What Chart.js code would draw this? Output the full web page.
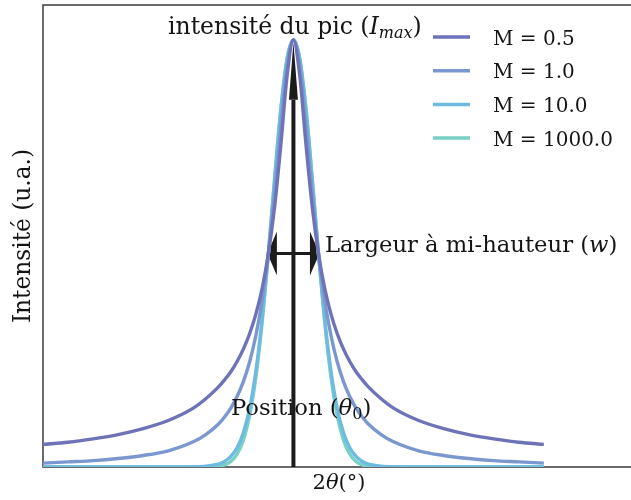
<!DOCTYPE html>
<html>
<head>
<meta charset="utf-8">
<script src="https://cdn.jsdelivr.net/npm/chart.js@4.4.1/dist/chart.umd.min.js"></script>
<style>
  html, body { margin: 0; padding: 0; background: #fff; }
  #wrap { width: 631px; height: 500px; }
</style>
</head>
<body>
<div id="wrap"><canvas id="pvChart"></canvas></div>
<script>
// 2theta positions (relative to peak position, degrees)
const twoTheta = [-10, -9, -8, -7, -6, -5, -4, -3.5, -3, -2.75, -2.5, -2.25, -2, -1.75, -1.5, -1.25, -1, -0.75, -0.5, -0.25,
  0, 0.25, 0.5, 0.75, 1, 1.25, 1.5, 1.75, 2, 2.25, 2.5, 2.75, 3, 3.5, 4, 5, 6, 7, 8, 9, 10];

// intensities (peak = 1)
const m05 = [0.053, 0.058, 0.066, 0.076, 0.090, 0.109, 0.138, 0.160, 0.187, 0.204, 0.223, 0.247, 0.276, 0.312, 0.358, 0.418, 0.500, 0.610, 0.756, 0.918,
  1.000, 0.918, 0.756, 0.610, 0.500, 0.418, 0.358, 0.312, 0.276, 0.247, 0.223, 0.204, 0.187, 0.160, 0.138, 0.109, 0.090, 0.076, 0.066, 0.058, 0.053];
const m1 = [0.009, 0.012, 0.015, 0.020, 0.027, 0.038, 0.059, 0.076, 0.100, 0.117, 0.138, 0.165, 0.200, 0.246, 0.308, 0.390, 0.500, 0.640, 0.800, 0.941,
  1.000, 0.941, 0.800, 0.640, 0.500, 0.390, 0.308, 0.246, 0.200, 0.165, 0.138, 0.117, 0.100, 0.076, 0.059, 0.038, 0.027, 0.020, 0.015, 0.012, 0.009];
const m10 = [0, 0, 0, 0, 0, 0, 0.0005, 0.002, 0.007, 0.013, 0.025, 0.045, 0.080, 0.137, 0.224, 0.346, 0.500, 0.673, 0.837, 0.956,
  1.000, 0.956, 0.837, 0.673, 0.500, 0.346, 0.224, 0.137, 0.080, 0.045, 0.025, 0.013, 0.007, 0.002, 0.0005, 0, 0, 0, 0, 0, 0];
const m1000 = [0, 0, 0, 0, 0, 0, 0, 0.0002, 0.002, 0.005, 0.013, 0.030, 0.063, 0.120, 0.210, 0.339, 0.500, 0.677, 0.841, 0.958,
  1.000, 0.958, 0.841, 0.677, 0.500, 0.339, 0.210, 0.120, 0.063, 0.030, 0.013, 0.005, 0.002, 0.0002, 0, 0, 0, 0, 0, 0, 0];

const seriesLabels = ["M = 0.5", "M = 1.0", "M = 10.0", "M = 1000.0"];
const seriesColors = ["#6e73b8", "#7b97d0", "#6fbbe0", "#78d0c6"];

const SERIF = '"DejaVu Serif", serif';

function pts(vals) {
  return twoTheta.map((t, i) => ({ x: t, y: vals[i] }));
}

// draws a row of text pieces: [text, size, italic, dy]
function richText(ctx, parts, x, y, align) {
  let total = 0;
  parts.forEach(p => {
    ctx.font = (p[2] ? "italic " : "") + p[1] + "px " + SERIF;
    p.w = ctx.measureText(p[0]).width;
    total += p.w;
  });
  let cx = align === "center" ? x - total / 2 : x;
  parts.forEach(p => {
    ctx.font = (p[2] ? "italic " : "") + p[1] + "px " + SERIF;
    ctx.fillText(p[0], cx, y + (p[3] || 0));
    cx += p.w;
  });
}

const annotations = {
  id: "annotations",
  beforeDatasetsDraw(chart) {
    const { ctx, chartArea: a, scales: { x, y } } = chart;
    ctx.save();
    // frame
    ctx.strokeStyle = "#3a3a3a";
    ctx.lineWidth = 1.5;
    ctx.beginPath();
    ctx.moveTo(a.right + 10, a.top);
    ctx.lineTo(a.left, a.top);
    ctx.lineTo(a.left, a.bottom);
    ctx.lineTo(a.right + 10, a.bottom);
    ctx.stroke();

    ctx.fillStyle = "#1c1c1c";
    ctx.strokeStyle = "#1c1c1c";
    // vertical arrow (position / peak intensity)
    const x0 = x.getPixelForValue(0);
    ctx.lineWidth = 4;
    ctx.beginPath();
    ctx.moveTo(x0, y.getPixelForValue(0));
    ctx.lineTo(x0, y.getPixelForValue(0.86));
    ctx.stroke();
    ctx.beginPath();
    ctx.moveTo(x0 - 4.5, y.getPixelForValue(0.86));
    ctx.lineTo(x0, y.getPixelForValue(0.995));
    ctx.lineTo(x0 + 4.5, y.getPixelForValue(0.86));
    ctx.closePath();
    ctx.fill();

    // horizontal double arrow (FWHM)
    const yh = y.getPixelForValue(0.5);
    ctx.lineWidth = 3;
    ctx.beginPath();
    ctx.moveTo(x.getPixelForValue(-0.7), yh);
    ctx.lineTo(x.getPixelForValue(0.7), yh);
    ctx.stroke();
    [-1, 1].forEach(s => {
      const tip = x.getPixelForValue(s * 1.04);
      const base = x.getPixelForValue(s * 0.66);
      ctx.beginPath();
      ctx.moveTo(tip, yh);
      ctx.lineTo(base, yh - 22);
      ctx.lineTo(base, yh + 22);
      ctx.closePath();
      ctx.fill();
    });
    ctx.restore();
  },
  afterDatasetsDraw(chart) {
    const { ctx } = chart;
    ctx.save();
    ctx.fillStyle = "#141414";
    ctx.textBaseline = "alphabetic";
    ctx.textAlign = "left";

    richText(ctx, [["intensité du pic (", 23.5], ["I", 23.5, true], ["max", 16, true, 4], [")", 23.5]], 168, 34, "left");
    richText(ctx, [["Largeur à mi-hauteur (", 22.7], ["w", 22.7, true], [")", 22.7]], 325, 252, "left");
    richText(ctx, [["Position (", 22.7], ["θ", 22.7, true], ["0", 16, false, 4], [")", 22.7]], 231, 415, "left");
    richText(ctx, [["2", 21], ["θ", 21, true], ["(°)", 21]], 339, 489, "center");

    // y axis title
    ctx.save();
    ctx.translate(30, 236);
    ctx.rotate(-Math.PI / 2);
    richText(ctx, [["Intensité (u.a.)", 23.3]], 0, 0, "center");
    ctx.restore();

    // legend
    chart.data.datasets.forEach((ds, i) => {
      const ly = 37 + i * 33.7;
      ctx.strokeStyle = ds.borderColor;
      ctx.lineWidth = 3.5;
      ctx.beginPath();
      ctx.moveTo(433, ly);
      ctx.lineTo(470, ly);
      ctx.stroke();
      ctx.fillStyle = "#141414";
      richText(ctx, [[ds.label, 20]], 493, ly + 7.5, "left");
    });
    ctx.restore();
  }
};

const ctx = document.getElementById("pvChart").getContext("2d");

new Chart(ctx, {
  type: "line",
  data: {
    datasets: [m05, m1, m10, m1000].map((vals, i) => ({
      label: seriesLabels[i],
      data: pts(vals),
      borderColor: seriesColors[i],
      borderWidth: 3.4,
      pointRadius: 0,
      fill: false,
      cubicInterpolationMode: "monotone",
    })),
  },
  options: {
    responsive: true,
    maintainAspectRatio: false,
    animation: false,
    layout: { padding: { left: 43, right: 2, top: 5, bottom: 33 } },
    scales: {
      x: { type: "linear", min: -10, max: 13.4, display: false },
      y: { min: 0, max: 1.082, display: false },
    },
    plugins: {
      legend: { display: false },
      tooltip: { enabled: false },
    },
  },
  plugins: [annotations],
});
</script>
</body>
</html>
